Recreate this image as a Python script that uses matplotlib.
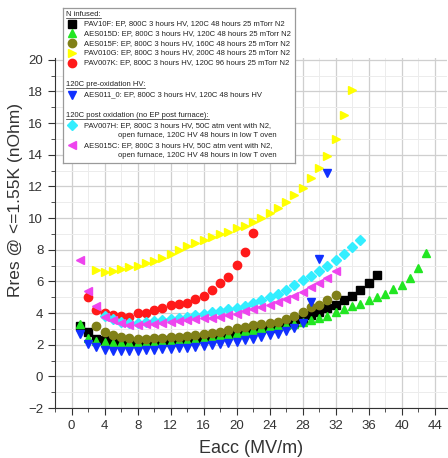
import numpy as np
import matplotlib
matplotlib.use("Agg")
import matplotlib.pyplot as plt
from matplotlib.ticker import MultipleLocator

plt.rcParams["font.family"] = ["Liberation Sans", "DejaVu Sans"]

# Rres vs Eacc, one array per cavity test
x_pav10f = np.arange(1, 38)
y_pav10f = [3.2, 2.8, 2.35, 2.28, 2.22, 2.2, 2.2, 2.2, 2.22, 2.25, 2.28, 2.31, 2.35, 2.39, 2.43,
            2.48, 2.54, 2.6, 2.67, 2.74, 2.82, 2.9, 2.98, 3.07, 3.17, 3.28, 3.4, 3.6, 3.86, 4.08,
            4.29, 4.5, 4.82, 5.09, 5.45, 5.93, 6.4]

x_aes015d = np.arange(1, 44)
y_aes015d = [3.34, 2.45, 2.22, 2.15, 2.12, 2.1, 2.1, 2.1, 2.12, 2.14, 2.16, 2.18, 2.21, 2.25,
             2.3, 2.37, 2.45, 2.54, 2.64, 2.74, 2.84, 2.94, 3.04, 3.12, 3.2, 3.27, 3.34, 3.42,
             3.55, 3.68, 3.84, 4.05, 4.26, 4.43, 4.58, 4.8, 5.0, 5.22, 5.5, 5.8, 6.23, 6.82, 7.77]

x_aes015f = np.arange(3, 33)
y_aes015f = [3.19, 2.82, 2.6, 2.46, 2.4, 2.38, 2.38, 2.4, 2.42, 2.46, 2.5, 2.55, 2.6, 2.66,
             2.74, 2.83, 2.93, 3.03, 3.13, 3.22, 3.3, 3.38, 3.46, 3.6, 3.82, 4.08, 4.39, 4.54,
             4.82, 5.13]

x_pav010g = np.arange(3, 35)
y_pav010g = [6.72, 6.62, 6.66, 6.76, 6.88, 7.0, 7.14, 7.3, 7.5, 7.7, 7.98, 8.25, 8.4,
             8.61, 8.82, 8.97, 9.14, 9.35, 9.52, 9.73, 9.98, 10.3, 10.66, 11.04, 11.46, 11.9,
             12.5, 13.15, 13.95, 15.0, 16.5, 18.1]

x_pav007k = np.arange(2, 23)
y_pav007k = [5.03, 4.2, 4.02, 3.85, 3.82, 3.74, 4.0, 4.0, 4.18, 4.35, 4.5, 4.56, 4.66, 4.88,
             5.1, 5.48, 5.87, 6.27, 7.05, 7.87, 9.03]

x_aes011 = np.arange(1, 32)
y_aes011 = [2.66, 2.07, 1.83, 1.65, 1.62, 1.62, 1.62, 1.63, 1.65, 1.68, 1.7, 1.73, 1.77, 1.82,
            1.88, 1.95, 1.97, 2.02, 2.08, 2.17, 2.28, 2.38, 2.49, 2.59, 2.7, 2.85, 3.06, 3.4,
            4.71, 7.43, 12.85]

x_pav007h = np.arange(4, 36)
y_pav007h = [3.8, 3.6, 3.45, 3.38, 3.38, 3.42, 3.48, 3.55, 3.62, 3.7, 3.78, 3.87,
             3.97, 4.06, 4.15, 4.25, 4.34, 4.46, 4.62, 4.8, 5.0, 5.22, 5.46, 5.75, 6.08, 6.35,
             6.66, 6.99, 7.35, 7.72, 8.19, 8.62]

x_aes015c = np.arange(1, 33)
y_aes015c = [7.35, 5.4, 4.46, 3.76, 3.55, 3.4, 3.27, 3.25, 3.3, 3.33, 3.4, 3.45, 3.48, 3.55,
             3.6, 3.66, 3.72, 3.78, 3.85, 3.94, 4.12, 4.25, 4.4, 4.54, 4.71, 4.88, 5.09, 5.34,
             5.66, 5.93, 6.22, 6.65]

series = [
    ("PAV10F: EP, 800C 3 hours HV, 120C 48 hours 25 mTorr N2", x_pav10f, y_pav10f, "s", "#000000"),
    ("AES015D: EP, 800C 3 hours HV, 120C 48 hours 25 mTorr N2", x_aes015d, y_aes015d, "^", "#22e622"),
    ("AES015F: EP, 800C 3 hours HV, 160C 48 hours 25 mTorr N2", x_aes015f, y_aes015f, "o", "#808018"),
    ("PAV010G: EP, 800C 3 hours HV, 200C 48 hours 25 mTorr N2", x_pav010g, y_pav010g, ">", "#ffff00"),
    ("PAV007K: EP, 800C 3 hours HV, 120C 96 hours 25 mTorr N2", x_pav007k, y_pav007k, "o", "#ff1a1a"),
    ("AES011_0: EP, 800C 3 hours HV, 120C 48 hours HV", x_aes011, y_aes011, "v", "#1030ff"),
    ("PAV007H: EP, 800C 3 hours HV, 50C atm vent with N2,\nopen furnace, 120C HV 48 hours in low T oven",
     x_pav007h, y_pav007h, "D", "#33eeff"),
    ("AES015C: EP, 800C 3 hours HV, 50C atm vent with N2,\nopen furnace, 120C HV 48 hours in low T oven",
     x_aes015c, y_aes015c, "<", "#ee44ee"),
]
sizes = {"s": 5.2, "^": 6, "o": 6, ">": 6, "v": 6, "D": 4.6, "<": 6}

fig = plt.figure(figsize=(4.48, 4.58), dpi=100)
ax = fig.add_axes([0.123, 0.109, 0.875, 0.764])

for label, xs, ys, m, c in series:
    ax.plot(xs, ys, ls="none", marker=m, ms=sizes[m], color=c, mec=c)

ax.set_xlim(-2, 45.5)
ax.set_ylim(-2, 20.1)
ax.xaxis.set_major_locator(MultipleLocator(4))
ax.xaxis.set_minor_locator(MultipleLocator(2))
ax.yaxis.set_major_locator(MultipleLocator(2))
ax.yaxis.set_minor_locator(MultipleLocator(1))
ax.grid(which="major", color="#cfcfcf", lw=0.9)
ax.grid(which="minor", color="#ececec", lw=0.7)
ax.set_axisbelow(True)
for s in ("top", "right"):
    ax.spines[s].set_visible(False)
for s in ("left", "bottom"):
    ax.spines[s].set_color("#333333")
ax.tick_params(which="major", direction="out", length=5, color="#333333", labelsize=9.5,
               labelcolor="#333333")
ax.tick_params(which="minor", direction="out", length=3, color="#333333")
ax.set_xlabel("Eacc (MV/m)", fontsize=13, color="#333333")
ax.set_ylabel("Rres @ <=1.55K (nOhm)", fontsize=12.5, color="#333333")
ax.xaxis.set_label_coords(0.5, -0.092)
ax.yaxis.set_label_coords(-0.083, 0.594)

# legend panel, laid out in pixel units
lax = fig.add_axes([63 / 448, 1 - 163 / 458, 232 / 448, 155 / 458])
lax.set_xlim(63, 295)
lax.set_ylim(163, 8)
lax.set_xticks([])
lax.set_yticks([])
for s in lax.spines.values():
    s.set_color("#9a9a9a")
    s.set_linewidth(0.9)

headers = [("N infused:", 14.5), ("120C pre-oxidation HV:", 84.5),
           ("120C post oxidation (no EP post furnace):", 115.5)]
rows = [23.5, 33.3, 43.1, 52.9, 62.7, 95, 125.3, 145.3]
fs = 5.5
htexts = [lax.text(66, hy, h, fontsize=fs, color="#222222", va="center") for h, hy in headers]
for (label, xs, ys, m, c), ry in zip(series, rows):
    lax.plot([72], [ry], ls="none", marker=m, ms=sizes[m], color=c, mec=c)
    first, *rest = label.split("\n")
    lax.text(84, ry, first, fontsize=fs, color="#222222", va="center")
    if rest:
        lax.text(118, ry + 10.5, rest[0], fontsize=fs, color="#222222", va="center")

fig.canvas.draw()
inv = lax.transData.inverted()
for t, (h, hy) in zip(htexts, headers):
    bb = t.get_window_extent()
    x0, _ = inv.transform((bb.x0, bb.y0))
    x1, _ = inv.transform((bb.x1, bb.y0))
    lax.plot([x0, x1], [hy + 3.4, hy + 3.4], color="#222222", lw=0.5)

fig.savefig("out.png", dpi=100)
